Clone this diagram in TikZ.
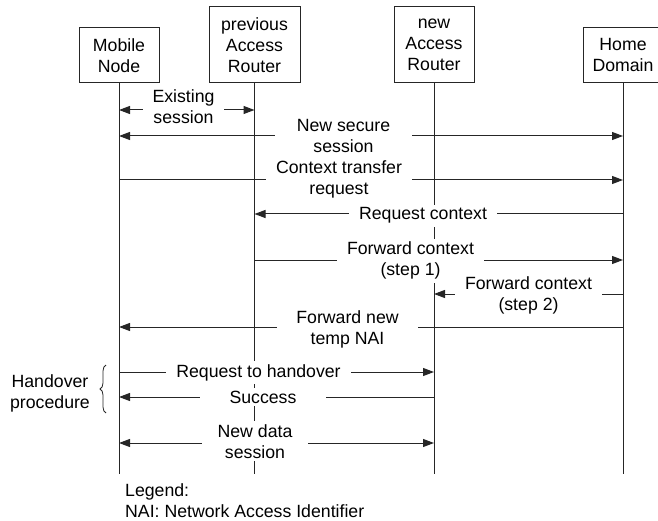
\documentclass[tikz,border=0pt]{standalone}
\usepackage{fontspec}
\setmainfont{Liberation Sans}
\usetikzlibrary{arrows.meta,decorations.pathreplacing}
\begin{document}
\begin{tikzpicture}[x=1pt,y=-1pt,
  every node/.style={font=\fontsize{17.7}{21}\selectfont},
  actor/.style={draw=black!85, line width=1pt, align=center, inner sep=0pt, minimum width=80pt},
  life/.style={draw=black!85, line width=1pt},
  msg/.style={draw=black!85, line width=1pt},
  tipend/.style={-{Triangle[length=11pt,width=8pt]}},
  tipboth/.style={{Triangle[length=11pt,width=8pt]}-{Triangle[length=11pt,width=8pt]}},
  lbl/.style={fill=white, align=center, inner xsep=10pt, inner ysep=3pt, anchor=base}
]
\useasboundingbox (0,0) rectangle (658,521);

% actors
\node[actor, minimum height=55pt] (mn) at (119,55.5) {Mobile\\Node};
\node[actor, minimum width=91pt, minimum height=76pt] (par) at (254.5,45) {previous\\Access\\Router};
\node[actor, minimum height=76pt] (nar) at (434,45) {new\\Access\\Router};
\node[actor, minimum height=55pt] (hd) at (623,55.5) {Home\\Domain};

% lifeline ends
\coordinate (mnE) at (119,474);
\coordinate (parE) at (254.5,474);
\coordinate (narE) at (434,474);
\coordinate (hdE) at (623,474);
\draw[life] (mn.south) -- (mnE);
\draw[life] (par.south) -- (parE);
\draw[life] (nar.south) -- (narE);
\draw[life] (hd.south) -- (hdE);

% message end points
\coordinate (mn1) at (119,110);  \coordinate (par1) at (254.5,110);
\coordinate (mn2) at (119,136);  \coordinate (hd2) at (623,136);
\coordinate (mn3) at (119,180);  \coordinate (hd3) at (623,180);
\coordinate (hd4) at (623,214);  \coordinate (par4) at (254.5,214);
\coordinate (par5) at (254.5,260); \coordinate (hd5) at (623,260);
\coordinate (hd6) at (623,294);  \coordinate (nar6) at (434,294);
\coordinate (hd7) at (623,327);  \coordinate (mn7) at (119,327);
\coordinate (mn8) at (119,372);  \coordinate (nar8) at (434,372);
\coordinate (nar9) at (434,397); \coordinate (mn9) at (119,397);
\coordinate (mn10) at (119,443); \coordinate (nar10) at (434,443);

% messages
\draw[msg, tipboth] (mn1) -- (par1);
\draw[msg, tipboth] (mn2) -- (hd2);
\draw[msg, tipend] (mn3) -- (hd3);
\draw[msg, tipend] (hd4) -- (par4);
\draw[msg, tipend] (par5) -- (hd5);
\draw[msg, tipend] (hd6) -- (nar6);
\draw[msg, tipend] (hd7) -- (mn7);
\draw[msg, tipend] (mn8) -- (nar8);
\draw[msg, tipend] (nar9) -- (mn9);
\draw[msg, tipboth] (mn10) -- (nar10);

% labels (base anchor = baseline of last line)
\node[lbl] (l1) at (183.5,124) {Existing\\session};
\node[lbl, inner xsep=22pt] (l2) at (343.5,153) {New secure\\session};
\node[lbl] (l3) at (339,195) {Context transfer\\request};
\node[lbl] (l4) at (423,220) {Request context};
\node[lbl] (l5) at (410.5,276) {Forward context\\(step 1)};
\node[lbl] (l6) at (528.5,310) {Forward context\\(step 2)};
\node[lbl, inner xsep=19pt] (l7) at (347.5,344) {Forward new\\temp NAI};
\node[lbl] (l8) at (258.5,377) {Request to handover};
\node[lbl, inner xsep=30pt] (l9) at (263,403) {Success};
\node[lbl, inner xsep=16pt] (l10) at (255,458) {New data\\session};

% handover procedure
\node[anchor=base, align=center, inner sep=0pt] (hp) at (50,408) {Handover\\procedure};
\coordinate (brB) at (106,413);
\coordinate (brT) at (106,365);
\draw[decorate, decoration={brace, amplitude=6pt}, line width=0.8pt, black!85] (brB) -- (brT);

% legend
\node[anchor=base west, align=left, inner sep=0pt] (leg) at (125,517) {Legend:\\NAI: Network Access Identifier};
\end{tikzpicture}
\end{document}
